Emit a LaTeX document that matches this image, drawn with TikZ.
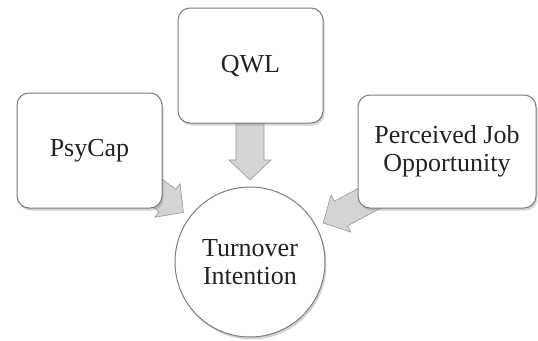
\documentclass[tikz,border=0pt]{standalone}
\usepackage{fontspec}
\setmainfont{Liberation Serif}
\usetikzlibrary{calc,shadows}
\pgfdeclarelayer{background}
\pgfsetlayers{background,main}
\definecolor{edgegray}{RGB}{125,125,125}
\definecolor{arrowgray}{RGB}{212,212,212}
\definecolor{txt}{RGB}{35,35,35}
\tikzset{
  box/.style={draw=edgegray, line width=1pt, fill=white, rounded corners=12pt,
    align=center, text=txt, inner sep=0pt,
    font=\fontsize{26}{28}\selectfont,
    drop shadow={shadow xshift=1.5pt, shadow yshift=-2.5pt, opacity=0.35, fill=gray}},
  circ/.style={circle, draw=edgegray, line width=1pt, fill=white, align=center,
    text=txt, inner sep=0pt, font=\fontsize{26}{28}\selectfont,
    drop shadow={shadow xshift=1.5pt, shadow yshift=-2.5pt, opacity=0.35, fill=gray}},
  blockarrow/.style={draw=edgegray!80, line width=0.6pt, fill=arrowgray, line join=miter}
}
\newcommand{\fatarrow}[3]{% start, end, headbase name
  \coordinate (#3) at ($(#2)!20pt!(#1)$);
  \path[blockarrow] ($(#1)!14pt!90:(#2)$) -- ($(#3)!14pt!90:(#2)$) -- ($(#3)!21pt!90:(#2)$)
    -- (#2) -- ($(#3)!21pt!-90:(#2)$) -- ($(#3)!14pt!-90:(#2)$) -- ($(#1)!14pt!-90:(#2)$) -- cycle;
}
\begin{document}
\begin{tikzpicture}[x=1pt,y=-1pt]
\useasboundingbox (0,0) rectangle (538,340);
\node[box, minimum width=145pt, minimum height=115pt] (psy) at (89.5,150.5) {PsyCap};
\node[box, minimum width=145pt, minimum height=115pt] (qwl) at (250.5,65.5) {QWL};
\node[box, minimum width=178pt, minimum height=113pt] (pjo) at (447,151.5) {Perceived Job\\Opportunity};
\node[circ, minimum size=150pt] (ti) at (250,262) {Turnover\\Intention};
\coordinate (s1) at (140,180);
\coordinate (s2) at (250,123);
\coordinate (s3) at (385,190);
\coordinate (e1) at ($(ti.center)!83pt!(s1)$);
\coordinate (e2) at ($(ti.center)!82pt!(s2)$);
\coordinate (e3) at ($(ti.center)!83pt!(s3)$);
\begin{pgfonlayer}{background}
\fatarrow{s1}{e1}{h1}
\fatarrow{s2}{e2}{h2}
\fatarrow{s3}{e3}{h3}
\end{pgfonlayer}
\end{tikzpicture}
\end{document}
